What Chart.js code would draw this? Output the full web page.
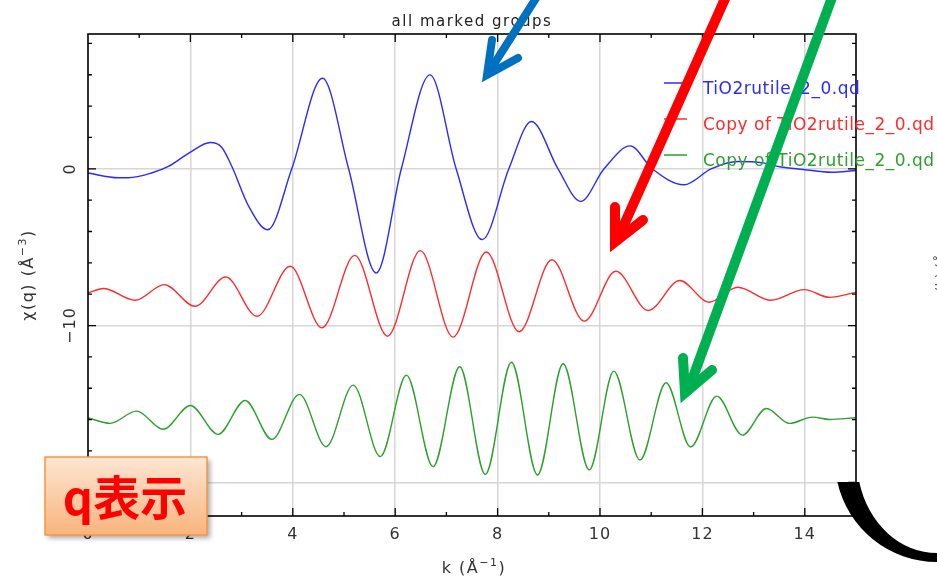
<!DOCTYPE html>
<html>
<head>
<meta charset="utf-8">
<script src="https://cdn.jsdelivr.net/npm/chart.js@4.4.1/dist/chart.umd.min.js"></script>
<style>
html,body{margin:0;padding:0;background:#fff;}
#wrap{width:937px;height:579px;position:relative;overflow:hidden;}
</style>
</head>
<body>
<div id="wrap"><canvas id="chiq" width="937" height="579"></canvas></div>
<script>
// chi(q) of the three marked groups, k in 1/A
let blueK=[0,0.59,0.79,1.24,1.57,2.0,2.39,2.61,2.81,3.14,3.51,3.98,4.58,5.09,5.63,6.12,6.68,7.19,7.70,8.22,8.66,9.18,9.62,10.08,10.59,11.02,11.64,12.17,12.69,13.18,13.51,13.97,14.52,15];
let blueChi=[-0.27,-0.57,-0.57,-0.27,0.15,1.07,1.68,1.38,0.15,-2.4,-3.89,0,5.78,0,-6.64,0,5.99,0,-4.52,0,3.02,0,-2.08,0,1.46,0,-1.02,0,0.47,0.38,0.13,-0.04,-0.22,-0.11];

let redK=[0,0.30,0.92,1.49,2.09,2.69,3.30,3.95,4.57,5.21,5.85,6.49,7.13,7.78,8.42,9.06,9.69,10.31,10.94,11.56,12.13,12.69,13.34,13.99,14.48,15];
let redChi=[-7.92,-7.64,-8.39,-7.39,-8.77,-6.9,-9.41,-6.22,-10.15,-5.52,-10.68,-5.22,-10.74,-5.31,-10.4,-5.8,-9.72,-6.54,-9.04,-7.13,-8.51,-7.56,-8.39,-7.71,-8.2,-7.88];

let greenK=[0,0.43,0.95,1.47,2.0,2.54,3.07,3.59,4.13,4.65,5.18,5.71,6.22,6.74,7.26,7.76,8.27,8.78,9.28,9.79,10.27,10.78,11.29,11.77,12.28,12.78,13.25,13.70,14.15,14.48,15];
let greenChi=[-15.88,-16.24,-15.46,-16.62,-15.1,-16.94,-14.78,-17.26,-14.39,-17.73,-13.8,-18.36,-13.16,-19.0,-12.63,-19.49,-12.34,-19.53,-12.44,-19.21,-12.91,-18.58,-13.65,-17.75,-14.5,-16.99,-15.29,-16.24,-15.84,-15.99,-15.88];

let groupNames=["TiO2rutile_2_0.qd","Copy of TiO2rutile_2_0.qd","Copy of TiO2rutile_2_0.qd"];
let xTickLabels=[0,2,4,6,8,10,12,14];
let yTickLabels=[0,-10,-20];

let lineColors=["#2b2bff","#ff2b2b","#2ea02e"];

function pts(ks,vs){
  return ks.map((k,i)=>({x:k,y:vs[i]}));
}

let groups=[pts(blueK,blueChi),pts(redK,redChi),pts(greenK,greenChi)];

// text with a raised exponent, e.g. k (Å^-1)
function drawSup(ctx,parts,x,y,size){
  let w=0;
  parts.forEach(p=>{
    ctx.font=(p.sup?Math.round(size*0.7):size)+"px 'DejaVu Sans'";
    p.w=ctx.measureText(p.t).width;
    w+=p.w;
  });
  let cx=x-w/2;
  parts.forEach(p=>{
    ctx.font=(p.sup?Math.round(size*0.7):size)+"px 'DejaVu Sans'";
    ctx.fillText(p.t,cx,p.sup?y-size*0.45:y);
    cx+=p.w;
  });
}

function arrow(ctx,color,width,from,to,wing1,tip,wing2){
  ctx.save();
  ctx.strokeStyle=color;
  ctx.lineWidth=width;
  ctx.lineCap="round";
  ctx.lineJoin="round";
  ctx.beginPath();
  ctx.moveTo(from[0],from[1]);
  ctx.lineTo(to[0],to[1]);
  ctx.stroke();
  ctx.lineJoin="miter";
  ctx.miterLimit=6;
  ctx.beginPath();
  ctx.moveTo(wing1[0],wing1[1]);
  ctx.lineTo(tip[0],tip[1]);
  ctx.lineTo(wing2[0],wing2[1]);
  ctx.stroke();
  ctx.restore();
}

const decor={
  id:"decor",
  afterDraw(chart){
    const ctx=chart.ctx;
    const a=chart.chartArea;
    const xs=chart.scales.x, ys=chart.scales.y;
    ctx.save();

    // frame
    ctx.strokeStyle="#000";
    ctx.lineWidth=1.6;
    ctx.strokeRect(a.left,a.top,a.right-a.left,a.bottom-a.top);

    // inward ticks
    ctx.lineWidth=1.3;
    ctx.beginPath();
    for(let k=1;k<15;k++){
      let px=xs.getPixelForValue(k);
      let len=k%2===0?8:4;
      ctx.moveTo(px,a.bottom);ctx.lineTo(px,a.bottom-len);
      ctx.moveTo(px,a.top);ctx.lineTo(px,a.top+len);
    }
    for(let v=-22;v<=8;v+=2){
      let py=ys.getPixelForValue(v);
      let len=v%10===0?8:4;
      ctx.moveTo(a.left,py);ctx.lineTo(a.left+len,py);
      ctx.moveTo(a.right,py);ctx.lineTo(a.right-len,py);
    }
    ctx.stroke();

    ctx.fillStyle="#333";
    ctx.letterSpacing="1px";
    // x tick labels
    ctx.font="16px 'DejaVu Sans'";
    ctx.textAlign="center";
    ctx.textBaseline="alphabetic";
    xTickLabels.forEach(t=>{
      ctx.fillText(String(t),xs.getPixelForValue(t),539);
    });
    // y tick labels, turned
    yTickLabels.forEach(t=>{
      ctx.save();
      ctx.translate(75,ys.getPixelForValue(t));
      ctx.rotate(-Math.PI/2);
      ctx.fillText(String(t).replace("-","\u2212"),0,0);
      ctx.restore();
    });

    // titles
    ctx.textAlign="left";
    ctx.letterSpacing="1.5px";
    drawSup(ctx,[{t:"k (Å"},{t:"\u22121",sup:true},{t:")"}],474,573,16);
    ctx.save();
    ctx.translate(33,275);
    ctx.rotate(-Math.PI/2);
    drawSup(ctx,[{t:"\u03c7(q) (Å"},{t:"\u22123",sup:true},{t:")"}],0,0,16);
    ctx.restore();

    ctx.font="15px 'DejaVu Sans'";
    ctx.textAlign="center";
    ctx.fillStyle="#222";
    ctx.fillText("all marked groups",(a.left+a.right)/2,26);

    // legend
    ctx.letterSpacing="0.5px";
    ctx.textAlign="left";
    ctx.font="17px 'DejaVu Sans'";
    chart.data.datasets.forEach((ds,i)=>{
      let yy=83+i*36;
      ctx.strokeStyle=ds.borderColor;
      ctx.lineWidth=1.5;
      ctx.beginPath();
      ctx.moveTo(664,yy);ctx.lineTo(687,yy);
      ctx.stroke();
      ctx.fillStyle=ds.borderColor;
      ctx.fillText(ds.label,703,yy+10.5);
    });
    ctx.letterSpacing="0px";

    // pointer arrows
    arrow(ctx,"#0070c0",8,[540,-8],[489,72],[492,40],[487,75],[518,58]);
    arrow(ctx,"#ff0000",10,[728,-8],[619,236],[615,207],[615,242],[643,220]);
    arrow(ctx,"#00b050",10,[834,-8],[689,388],[683,358],[685,393],[712,370]);

    // q表示 box
    ctx.save();
    ctx.shadowColor="rgba(0,0,0,0.35)";
    ctx.shadowBlur=5;
    ctx.shadowOffsetX=3;
    ctx.shadowOffsetY=3;
    let g=ctx.createLinearGradient(0,457,0,535);
    g.addColorStop(0,"#fde6d3");
    g.addColorStop(1,"#f9b47c");
    ctx.fillStyle=g;
    ctx.fillRect(45,457,162,78);
    ctx.restore();
    ctx.strokeStyle="#f79646";
    ctx.lineWidth=1.5;
    ctx.strokeRect(45,457,162,78);
    ctx.fillStyle="#ff0000";
    ctx.font="bold 47px 'Noto Sans CJK JP'";
    ctx.textAlign="center";
    ctx.textBaseline="middle";
    ctx.fillText("q表示",125,497);

    // black bracket stroke at lower right
    ctx.fillStyle="#000";
    ctx.beginPath();
    let t0=Math.PI-Math.asin(22/102);
    let t1=Math.PI-Math.asin(22/93);
    ctx.ellipse(937,460,102,102,0,t0,Math.PI/2,true);
    ctx.ellipse(937,460,80,93,0,Math.PI/2,t1,false);
    ctx.closePath();
    ctx.fill();

    // clipped label of the neighbouring plot
    ctx.save();
    ctx.translate(946,300);
    ctx.rotate(-Math.PI/2);
    ctx.font="14px 'DejaVu Sans'";
    ctx.fillStyle="#555";
    ctx.textAlign="left";
    ctx.textBaseline="alphabetic";
    ctx.fillText("\u03c7(k) (Å",0,0);
    ctx.restore();

    ctx.restore();
  }
};

new Chart(document.getElementById("chiq"),{
  type:"line",
  data:{
    datasets:groups.map((d,i)=>({
      label:groupNames[i],
      data:d,
      borderColor:lineColors[i],
      borderWidth:1.4,
      cubicInterpolationMode:"monotone",
      pointRadius:0,
      fill:false
    }))
  },
  options:{
    responsive:false,
    animation:false,
    devicePixelRatio:1,
    layout:{padding:{left:88,right:81,top:34,bottom:63}},
    plugins:{legend:{display:false},tooltip:{enabled:false},title:{display:false}},
    scales:{
      x:{
        type:"linear",min:0,max:15,
        ticks:{display:false,stepSize:1},
        border:{display:false},
        grid:{
          drawTicks:false,lineWidth:1.5,
          color:c=>(c.tick&&c.tick.value%2===0&&c.tick.value>0&&c.tick.value<15)?"#d6d6d6":"rgba(0,0,0,0)"
        }
      },
      y:{
        type:"linear",min:-22.15,max:8.6,
        ticks:{display:false,stepSize:2},
        border:{display:false},
        grid:{
          drawTicks:false,lineWidth:1.5,
          color:c=>(c.tick&&c.tick.value%10===0)?"#d6d6d6":"rgba(0,0,0,0)"
        }
      }
    }
  },
  plugins:[decor]
});
</script>
</body>
</html>
